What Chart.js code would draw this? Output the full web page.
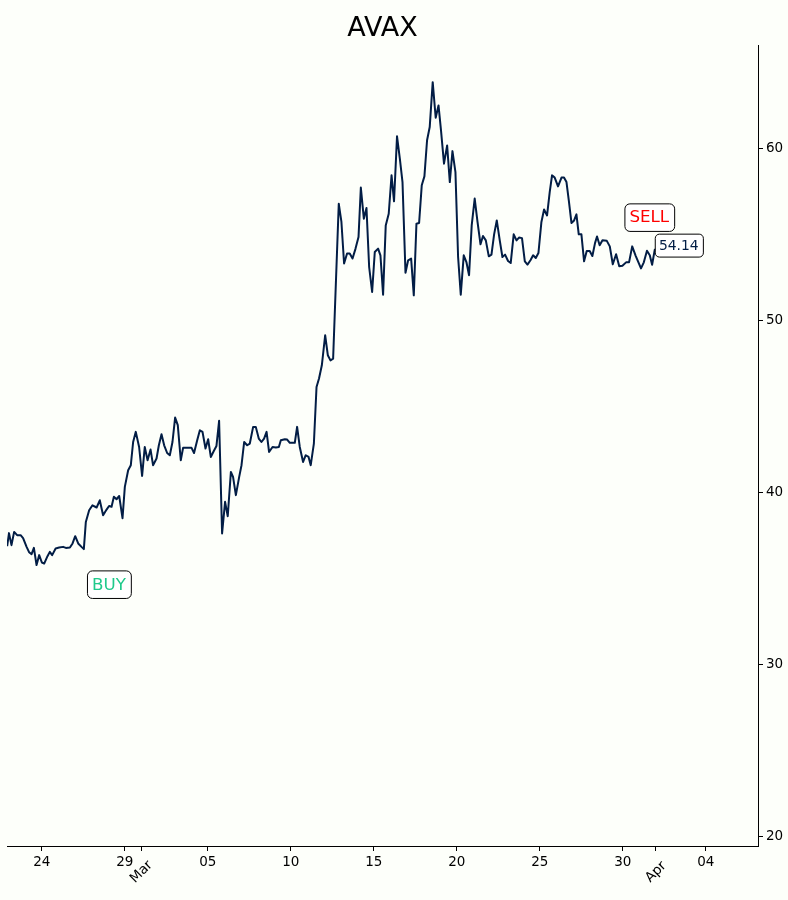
<!DOCTYPE html>
<html>
<head>
<meta charset="utf-8">
<title>AVAX</title>
<script src="https://cdn.jsdelivr.net/npm/chart.js@4.4.1/dist/chart.umd.min.js"></script>
<style>
  html, body { margin: 0; padding: 0; background: #fdfffa; }
  #wrap { width: 788px; height: 900px; }
</style>
</head>
<body>
<div id="wrap"><canvas id="grafico" width="788" height="900"></canvas></div>
<script>
// dias desde el 24 de febrero de 2024 (eje x) y precio de AVAX
const days = [
  -2.09, -1.98, -1.83, -1.67, -1.49, -1.28, -1.13, -0.92, -0.77, -0.62,
  -0.48, -0.32, -0.16, 0.00, 0.14, 0.34, 0.48, 0.62, 0.83, 1.04,
  1.28, 1.45, 1.69, 1.85, 2.01, 2.19, 2.39, 2.53, 2.65, 2.85,
  3.05, 3.30, 3.49, 3.69, 3.90, 4.05, 4.20, 4.34, 4.50, 4.66,
  4.86, 5.00, 5.20, 5.36, 5.50, 5.66, 5.86, 6.04, 6.20, 6.37,
  6.55, 6.70, 6.91, 7.05, 7.21, 7.37, 7.55, 7.71, 7.87, 8.03,
  8.19, 8.37, 8.51, 8.72, 9.02, 9.17, 9.36, 9.52, 9.68, 9.86,
  10.02, 10.18, 10.36, 10.52, 10.68, 10.86, 11.04, 11.20, 11.39, 11.52,
  11.69, 11.89, 12.03, 12.19, 12.37, 12.53, 12.73, 12.89, 13.07, 13.23,
  13.39, 13.54, 13.69, 13.90, 14.10, 14.28, 14.40, 14.64, 14.78, 14.94,
  15.24, 15.38, 15.54, 15.74, 15.90, 16.07, 16.20, 16.39, 16.55, 16.70,
  16.87, 17.07, 17.23, 17.39, 17.55, 17.89, 18.05, 18.21, 18.39, 18.55,
  18.72, 18.90, 19.08, 19.22, 19.40, 19.56, 19.72, 19.90, 20.06, 20.26,
  20.40, 20.56, 20.72, 20.90, 21.07, 21.22, 21.40, 21.57, 21.73, 21.91,
  22.07, 22.25, 22.41, 22.57, 22.73, 22.89, 23.05, 23.21, 23.37, 23.55,
  23.73, 23.90, 24.05, 24.23, 24.42, 24.58, 24.74, 24.92, 25.08, 25.24,
  25.42, 25.58, 25.74, 25.90, 26.08, 26.25, 26.43, 26.58, 26.75, 26.93,
  27.09, 27.25, 27.41, 27.59, 27.75, 27.91, 28.09, 28.25, 28.43, 28.60,
  28.75, 28.93, 29.10, 29.26, 29.44, 29.60, 29.76, 29.92, 30.10, 30.26,
  30.44, 30.60, 30.74, 30.90, 31.10, 31.31, 31.46, 31.61, 31.75, 31.91,
  32.07, 32.21, 32.35, 32.51, 32.67, 32.83, 33.01, 33.17, 33.33, 33.45,
  33.61, 33.78, 34.04, 34.22, 34.40, 34.60, 34.79, 34.98, 35.20, 35.38,
  35.57, 35.78, 36.10, 36.27, 36.46, 36.63, 36.77, 36.93, 37.05
];
const prices = [
  36.86, 37.62, 36.92, 37.69, 37.50, 37.50, 37.33, 36.82, 36.51, 36.40,
  36.76, 35.76, 36.34, 35.91, 35.85, 36.28, 36.53, 36.34, 36.73, 36.78,
  36.82, 36.76, 36.78, 37.02, 37.44, 37.02, 36.82, 36.69, 38.27, 38.95,
  39.24, 39.11, 39.53, 38.66, 38.99, 39.20, 39.15, 39.73, 39.59, 39.78,
  38.49, 40.31, 41.28, 41.57, 42.92, 43.51, 42.63, 40.95, 42.63, 41.86,
  42.48, 41.57, 41.96, 42.73, 43.37, 42.73, 42.28, 42.15, 42.92, 44.34,
  43.90, 41.86, 42.58, 42.58, 42.58, 42.28, 43.02, 43.60, 43.51, 42.54,
  43.08, 42.05, 42.40, 42.69, 44.15, 37.60, 39.44, 38.60, 41.18, 40.89,
  39.83, 40.89, 41.57, 42.92, 42.73, 42.83, 43.80, 43.80, 43.12, 42.92,
  43.12, 43.51, 42.34, 42.63, 42.60, 42.63, 43.02, 43.08, 43.06, 42.87,
  42.87, 43.80, 42.63, 41.76, 42.15, 42.05, 41.57, 42.83, 46.12, 46.61,
  47.38, 49.13, 47.97, 47.67, 47.77, 56.78, 55.72, 53.30, 53.88, 53.88,
  53.59, 54.17, 54.84, 57.72, 55.91, 56.53, 53.10, 51.65, 53.97, 54.17,
  53.78, 51.49, 55.52, 56.20, 58.43, 56.92, 60.70, 59.40, 58.04, 52.77,
  53.49, 53.59, 51.45, 55.62, 55.66, 57.85, 58.37, 60.47, 61.24, 63.85,
  61.78, 62.50, 61.05, 59.11, 60.17, 58.04, 59.84, 58.62, 53.68, 51.49,
  53.78, 53.39, 52.62, 55.52, 57.08, 55.72, 54.42, 54.90, 54.65, 53.72,
  53.82, 55.00, 55.81, 54.65, 53.68, 53.82, 53.45, 53.33, 55.00, 54.65,
  54.81, 54.78, 53.43, 53.24, 53.49, 53.78, 53.62, 53.91, 55.72, 56.44,
  56.10, 57.46, 58.43, 58.30, 57.79, 58.30, 58.30, 58.04, 56.98, 55.66,
  55.81, 56.16, 55.00, 55.00, 53.43, 54.03, 54.03, 53.74, 54.49, 54.87,
  54.36, 54.65, 54.62, 54.30, 53.26, 53.84, 53.14, 53.17, 53.37, 53.37,
  54.30, 53.75, 53.02, 53.37, 54.04, 53.78, 53.23, 54.11, 54.14
];

// etiquetas del eje x (24 feb = dia 0)
const tickDays = [0, 5, 6, 10, 15, 20, 25, 30, 35, 37, 40];
const tickLabels = ['24', '29', 'Mar', '05', '10', '15', '20', '25', '30', 'Apr', '04'];
const monthLabels = ['Mar', 'Apr'];
const yTicks = [20, 30, 40, 50, 60];

// señales
const buySignal = { day: 4.04, price: 34.65 };
const sellSignal = { day: 36.60, price: 56.0 };

const BG = '#fdfffa';
const LINE = '#021d45';
const FONT = "'DejaVu Sans', sans-serif";
const TICK_SIZE = 13.5;

function textBox(ctx, text, x, y, size, color, align) {
    ctx.save();
    ctx.font = size + 'px ' + FONT;
    const w = ctx.measureText(text).width;
    const pad = size * 0.3;
    const bw = w + 2 * pad;
    const bh = size * 1.05 + 2 * pad;
    const left = align === 'left' ? x : x - bw / 2;
    ctx.beginPath();
    ctx.roundRect(left + 0.5, y - bh / 2 + 0.5, bw, bh, pad);
    ctx.fillStyle = '#ffffff';
    ctx.fill();
    ctx.lineWidth = 1;
    ctx.strokeStyle = '#000000';
    ctx.stroke();
    ctx.fillStyle = color;
    ctx.textAlign = 'center';
    ctx.textBaseline = 'middle';
    ctx.fillText(text, left + bw / 2, y + 1);
    ctx.restore();
}

const extras = {
    id: 'extras',
    beforeDraw(chart) {
        const ctx = chart.ctx;
        ctx.save();
        ctx.fillStyle = BG;
        ctx.fillRect(0, 0, chart.width, chart.height);
        ctx.restore();
    },
    afterDraw(chart) {
        const ctx = chart.ctx;
        const xs = chart.scales.x;
        const ys = chart.scales.y;

        // meses rotados 45 grados
        ctx.save();
        ctx.font = TICK_SIZE + 'px ' + FONT;
        ctx.fillStyle = '#000';
        ctx.textAlign = 'center';
        ctx.textBaseline = 'middle';
        tickLabels.forEach((lab, i) => {
            if (!monthLabels.includes(lab)) return;
            const px = xs.getPixelForValue(tickDays[i]);
            ctx.save();
            ctx.translate(px, xs.top + 26);
            ctx.rotate(-Math.PI / 4);
            ctx.fillText(lab, 0, 0);
            ctx.restore();
        });
        ctx.restore();

        textBox(ctx, 'BUY', xs.getPixelForValue(buySignal.day), ys.getPixelForValue(buySignal.price), 16.7, '#1fc98b', 'center');
        textBox(ctx, 'SELL', xs.getPixelForValue(sellSignal.day), ys.getPixelForValue(sellSignal.price), 16.7, '#ff0000', 'center');

        const last = prices.length - 1;
        textBox(ctx, prices[last].toFixed(2), xs.getPixelForValue(days[last]) - 2,
                ys.getPixelForValue(prices[last]) - 4, 13.9, LINE, 'left');
    }
};

const ctx = document.getElementById('grafico').getContext('2d');

new Chart(ctx, {
    type: 'line',
    data: {
        datasets: [{
            label: 'AVAX',
            data: days.map((d, i) => ({ x: d, y: prices[i] })),
            borderColor: LINE,
            borderWidth: 2,
            pointRadius: 0,
            tension: 0,
            borderJoinStyle: 'round',
            fill: false
        }]
    },
    options: {
        responsive: false,
        animation: false,
        devicePixelRatio: 1,
        layout: { padding: { left: 7, right: 0, top: 0, bottom: 0 } },
        plugins: {
            legend: { display: false },
            tooltip: { enabled: false },
            title: {
                display: true,
                text: 'AVAX',
                fullSize: false,
                color: '#000',
                font: { family: FONT, size: 27, weight: 'normal' },
                padding: { top: 13, bottom: 0 }
            }
        },
        scales: {
            x: {
                type: 'linear',
                min: -2.1,
                max: 43.15,
                afterBuildTicks: (scale) => { scale.ticks = tickDays.map(v => ({ value: v })); },
                afterFit: (scale) => { scale.height = 54; },
                grid: { drawOnChartArea: false, drawTicks: true, tickLength: 5, color: '#000' },
                border: { display: true, color: '#000', width: 1 },
                ticks: {
                    autoSkip: false,
                    maxRotation: 0,
                    minRotation: 0,
                    padding: 3,
                    color: '#000',
                    font: { family: FONT, size: TICK_SIZE },
                    callback: (value) => {
                        const lab = tickLabels[tickDays.indexOf(value)];
                        return monthLabels.includes(lab) ? '' : lab;
                    }
                }
            },
            y: {
                position: 'right',
                min: 19.42,
                max: 65.99,
                afterBuildTicks: (scale) => { scale.ticks = yTicks.map(v => ({ value: v })); },
                afterFit: (scale) => { scale.width = 30; },
                grid: { drawOnChartArea: false, drawTicks: true, tickLength: 5, color: '#000' },
                border: { display: true, color: '#000', width: 1 },
                ticks: {
                    padding: 3,
                    color: '#000',
                    font: { family: FONT, size: TICK_SIZE }
                }
            }
        }
    },
    plugins: [extras]
});
</script>
</body>
</html>
